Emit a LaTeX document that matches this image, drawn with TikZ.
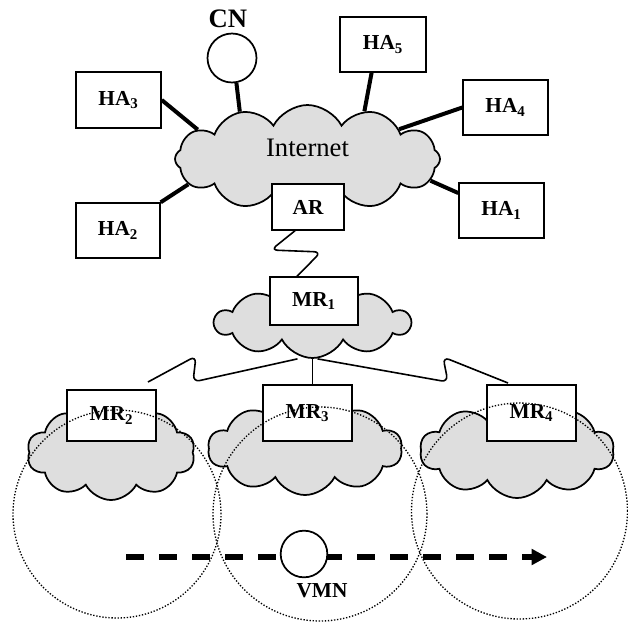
\documentclass[tikz,border=0pt]{standalone}
\usepackage{fontspec}
\setmainfont{Liberation Serif}
\usetikzlibrary{shapes.symbols,arrows.meta,calc}
\begin{document}
\begin{tikzpicture}[x=0.75pt,y=-0.75pt,
  box/.style={draw,line width=1.1pt,fill=white,inner sep=0pt,font=\fontsize{16}{18}\selectfont\bfseries},
  cl/.style={cloud,draw,line width=1.3pt,fill=gray!26,cloud puffs=10,cloud puff arc=125,cloud ignores aspect,inner sep=0pt},
  link/.style={line width=3pt},
  wave/.style={line width=1.2pt,rounded corners=5pt},
  zone/.style={circle,draw,line width=1pt,dash pattern=on 1pt off 1.3pt,inner sep=0pt},
  host/.style={circle,draw,line width=1.3pt,fill=white,inner sep=0pt},
  lab/.style={font=\fontsize{16}{18}\selectfont\bfseries,inner sep=0pt}
]
\useasboundingbox (0,0) rectangle (628,622);
% clouds
\node[cl,cloud puffs=12,minimum width=198.75pt,minimum height=81pt] (inet) at (307.5,159) {};
\node[inner sep=0pt,font=\fontsize{20}{23}\selectfont] (inettext) at (307.5,148) {Internet};
\node[cl,minimum width=146.25pt,minimum height=53.25pt] (c1) at (312.5,322.5) {};
\node[cl,minimum width=126pt,minimum height=71.25pt] (c2) at (111,452.5) {};
\node[cl,minimum width=145.5pt,minimum height=69.75pt] (c3) at (305,448.5) {};
\node[cl,minimum width=145.5pt,minimum height=71.25pt] (c4) at (517,450.5) {};
% hosts and boxes
\node[host,minimum size=36.75pt] (CN) at (232,58) {};
\node[lab,font=\fontsize{20}{23}\selectfont\bfseries] (CNlab) at (228,19) {CN};
\node[box,minimum width=64.5pt,minimum height=41.25pt] (HA5) at (383,44.5) {HA\textsubscript{5}};
\node[box,minimum width=63.75pt,minimum height=42pt] (HA3) at (118.5,100) {HA\textsubscript{3}};
\node[box,minimum width=63pt,minimum height=41.25pt] (HA2) at (118,230.5) {HA\textsubscript{2}};
\node[box,minimum width=63.75pt,minimum height=41.25pt] (HA4) at (505.5,107.5) {HA\textsubscript{4}};
\node[box,minimum width=63.75pt,minimum height=41.25pt] (HA1) at (501.5,210.5) {HA\textsubscript{1}};
% links to internet
\draw[link] (CN.-80) -- (inet.145);
\draw[link] (HA5.-112) -- (inet.40);
\draw[link] (HA3.east) -- (inet.165);
\draw[link] (HA2.north east) -- (inet.192);
\draw[link] (HA4.west) -- (inet.18);
\draw[link] (HA1.158) -- (inet.-10);
% access router and mesh routers
\node[box,minimum width=54pt,minimum height=34.5pt] (AR) at (308,207) {AR};
\node[box,minimum width=66pt,minimum height=36pt] (MR1) at (314,301) {MR\textsubscript{1}};
\draw[wave] ($(AR.south)+(-13,0)$) -- (271,250) -- (321,252) -- ($(MR1.north)+(-17,0)$);
\coordinate (lend) at (148,382);
\coordinate (rend) at (508,383);
\draw[wave] ($(c1.south)+(-15,0)$) -- (193,382) -- (196,356) -- (lend);
\draw[wave] ($(c1.south)+(5,0)$) -- (448,382) -- (443,357) -- (rend);
\node[box,minimum width=66.75pt,minimum height=38.25pt] (MR2) at (111.5,415.5) {MR\textsubscript{2}};
\node[box,minimum width=66.75pt,minimum height=42pt] (MR3) at (307.5,413) {MR\textsubscript{3}};
\node[box,minimum width=66.75pt,minimum height=42pt] (MR4) at (531.5,413) {MR\textsubscript{4}};
\draw[line width=1.1pt] (c1.south) -- (c1.south |- MR3.north);
% coverage zones
\node[zone,minimum size=156pt] (z2) at (117,514) {};
\node[zone,minimum size=160.5pt] (z3) at (320,514) {};
\node[zone,minimum size=162pt] (z4) at (519.5,511) {};
% movement
\coordinate (mvstart) at (126,557);
\coordinate (mvend) at (547,557);
\draw[line width=3.8pt,dash pattern=on 13.5pt off 11.25pt,-{Triangle[length=11.5pt,width=11.5pt]}] (mvstart) -- (mvend);
\node[host,minimum size=35pt] (VMN) at (304,554) {};
\node[lab] (VMNlab) at (322,591) {VMN};
\end{tikzpicture}
\end{document}
